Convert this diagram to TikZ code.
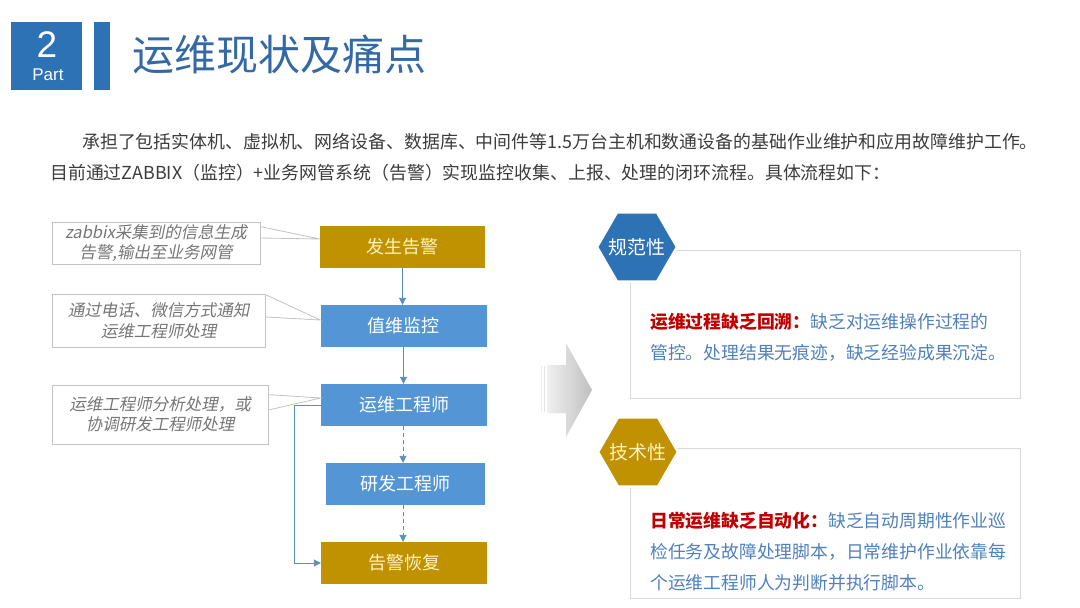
\documentclass[tikz,border=0pt]{standalone}
\usepackage{fontspec}
\setmainfont{Noto Sans CJK SC}
\newfontfamily\cjkit{Noto Sans CJK SC}[FakeSlant=0.2]
\newfontfamily\arialf{Liberation Sans}
\usetikzlibrary{shapes.geometric,arrows.meta,shadows}
\definecolor{gold}{RGB}{192,145,0}
\definecolor{boxblue}{RGB}{84,150,213}
\definecolor{darkblue}{RGB}{46,114,182}
\definecolor{titleblue}{RGB}{52,105,165}
\definecolor{arrowblue}{RGB}{90,140,195}
\definecolor{calloutgray}{RGB}{195,195,195}
\definecolor{callouttext}{RGB}{118,118,118}
\definecolor{bodygray}{RGB}{60,60,60}
\definecolor{warnred}{RGB}{192,0,0}
\definecolor{bodyblue}{RGB}{79,129,189}
\definecolor{lightyellow}{RGB}{255,242,190}
\newcommand\fsz[2]{\fontsize{#1}{#2}\selectfont}
\tikzset{
  flowbox/.style={minimum width=166pt, minimum height=42pt, inner sep=0pt, font=\fsz{18}{22}},
  goldbox/.style={flowbox, fill=gold, text=lightyellow},
  bluebox/.style={flowbox, fill=boxblue, text=white},
  flowarrow/.style={draw=arrowblue, line width=0.9pt, -{Triangle[length=7pt,width=7pt]}},
  dasharrow/.style={flowarrow, dash pattern=on 4pt off 3pt},
  callout/.style={draw=calloutgray, fill=white, line width=0.8pt, inner sep=0pt, align=center,
    text=callouttext, font=\cjkit\fsz{16.5}{20.5}},
  calloutline/.style={draw=calloutgray, line width=0.8pt},
  panel/.style={draw=gray!30, line width=0.8pt, fill=white, minimum width=390pt},
  hexa/.style={regular polygon, regular polygon sides=6, minimum size=80pt, inner sep=0pt,
    draw=white, line width=2.5pt,
    drop shadow={opacity=0.3, shadow xshift=0pt, shadow yshift=-1.5pt}},
  hexlabel/.style={inner sep=0pt, font=\fsz{19}{22}},
  paneltext/.style={anchor=west, align=left, inner sep=0pt, text=bodyblue, font=\fsz{17.8}{31}},
}
\begin{document}
\begin{tikzpicture}[x=1pt,y=-1pt]
\useasboundingbox (0,0) rectangle (1080,608);
\fill[white] (0,0) rectangle (1080,608);
% header
\node[fill=darkblue, minimum width=71pt, minimum height=68pt, inner sep=0pt] (sq) at (46.5,56) {};
\node[text=white, font=\arialf\fsz{37}{37}, inner sep=0pt] (num) at (47,45) {2};
\node[text=white, font=\arialf\fsz{17}{17}, inner sep=0pt] (part) at (48,75) {Part};
\node[fill=darkblue, minimum width=16pt, minimum height=68pt, inner sep=0pt] (bar) at (102,56) {};
\node[anchor=west, text=titleblue, font=\fsz{42}{42}, inner sep=0pt] (title) at (132,54) {运维现状及痛点};
% paragraph
\node[anchor=west, text=bodygray, font=\fsz{17.9}{22}, inner sep=0pt] (p1) at (82,142)
  {承担了包括实体机、虚拟机、网络设备、数据库、中间件等1.5万台主机和数通设备的基础作业维护和应用故障维护工作。};
\node[anchor=west, text=bodygray, font=\fsz{17.9}{22}, inner sep=0pt] (p2) at (50,173)
  {目前通过ZABBIX（监控）+业务网管系统（告警）实现监控收集、上报、处理的闭环流程。具体流程如下：};
% flow
\node[goldbox, minimum width=165pt] (alarm) at (402.5,247) {发生告警};
\node[bluebox] (duty) at (403.5,326) {值维监控};
\node[bluebox] (ops) at (404,405) {运维工程师};
\node[bluebox, minimum width=159pt] (dev) at (405.5,484) {研发工程师};
\node[goldbox] (recover) at (404,563) {告警恢复};
\draw[flowarrow] (alarm.south) -- (alarm.south |- duty.north);
\draw[flowarrow] (duty.south) -- (duty.south |- ops.north);
\draw[dasharrow] ([xshift=-1pt]ops.south) -- ([xshift=-1pt]ops.south |- dev.north);
\draw[dasharrow] ([xshift=-1pt]ops.south |- dev.south) -- ([xshift=-1pt]ops.south |- recover.north);
\draw[flowarrow] (ops.west) -- ++(-26,0) |- (recover.west);
% callouts
\node[callout, minimum width=208pt, minimum height=42pt] (c1) at (156,243) {zabbix采集到的信息生成\\告警,输出至业务网管};
\node[callout, minimum width=213pt, minimum height=53pt] (c2) at (158.5,320.5) {通过电话、微信方式通知\\运维工程师处理};
\node[callout, minimum width=216pt, minimum height=59pt] (c3) at (160,414.5) {运维工程师分析处理，或\\协调研发工程师处理};
\coordinate (k1) at ([yshift=8pt]alarm.west);
\coordinate (k2) at ([yshift=6pt]duty.west);
\coordinate (k3) at ([yshift=7pt]ops.west);
\draw[calloutline] ([yshift=-5pt]c1.north east) -- (k1) -- ([yshift=5pt]c1.east);
\draw[calloutline] ([yshift=-1pt]c2.north east) -- (k2) -- ([yshift=3.5pt]c2.east);
\draw[calloutline] ([yshift=-10pt]c3.north east) -- (k3) -- ([yshift=4.5pt]c3.east);
% big arrow
\draw[gray!15, line width=1pt] (541,366) -- (541,412);
\draw[gray!22, line width=1pt] (544,366) -- (544,412);
\shade[left color=gray!12, right color=gray!50] (547,365) -- (566,365) -- (566,343) -- (592,390) -- (566,437) -- (566,413) -- (547,413) -- cycle;
% panels
\node[panel, minimum height=148pt] (pan1) at (825,324) {};
\node[hexa, fill=darkblue] (h1) at (637,247) {};
\node[hexlabel, text=white] (h1t) at (h1.center) {规范性};
\node[paneltext] (t1) at (650,337) {{\bfseries\color{warnred}运维过程缺乏回溯：}缺乏对运维操作过程的\\管控。处理结果无痕迹，缺乏经验成果沉淀。};
\node[panel, minimum height=150pt] (pan2) at (825,523) {};
\node[hexa, fill=gold] (h2) at (638,452) {};
\node[hexlabel, text=lightyellow] (h2t) at (h2.center) {技术性};
\node[paneltext] (t2) at (650,552) {{\bfseries\color{warnred}日常运维缺乏自动化：}缺乏自动周期性作业巡\\检任务及故障处理脚本，日常维护作业依靠每\\个运维工程师人为判断并执行脚本。};
\end{tikzpicture}
\end{document}
